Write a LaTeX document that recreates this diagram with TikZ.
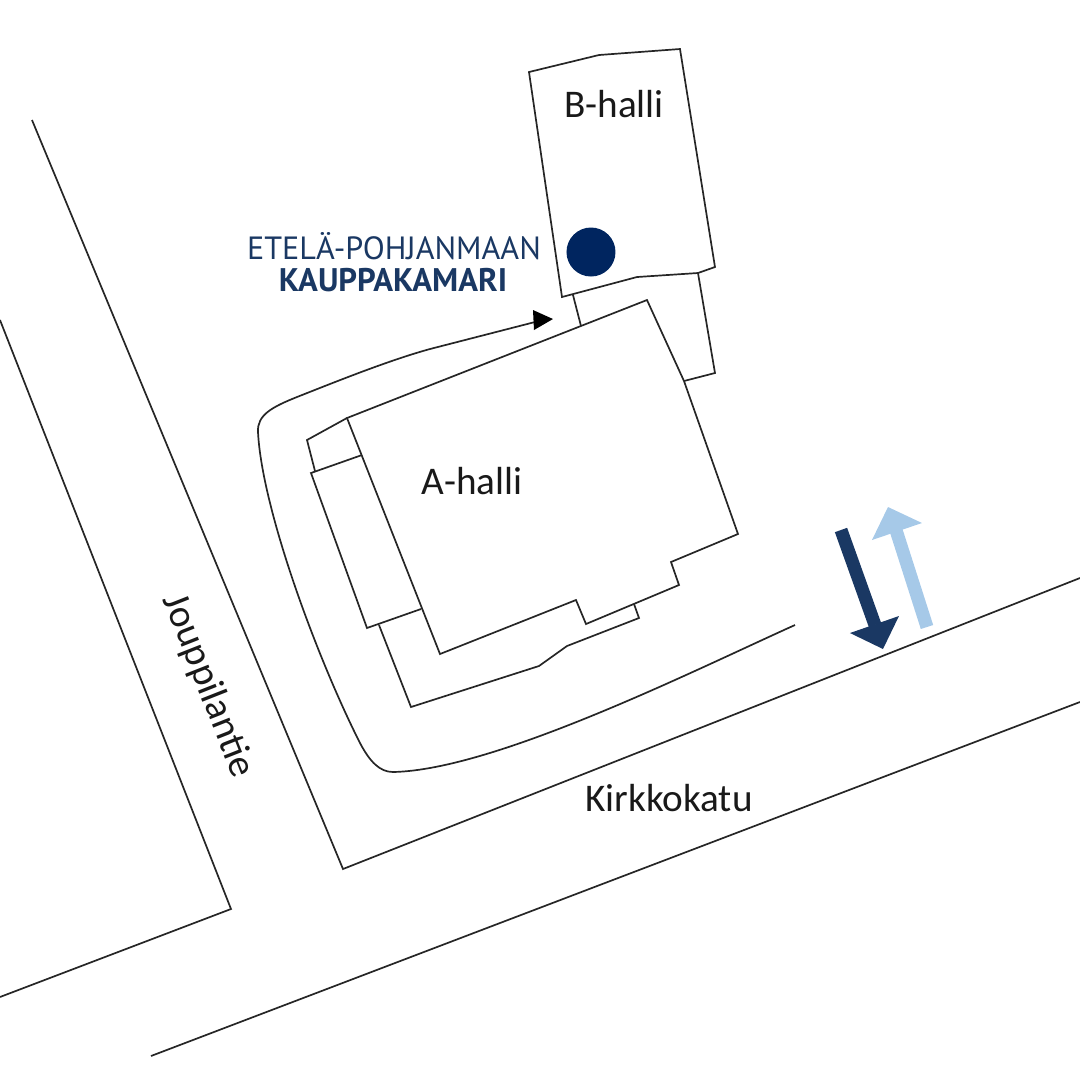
\documentclass[tikz,border=0pt]{standalone}
\usepackage{fontspec}
\setmainfont{Carlito}
\newfontfamily\ptsans{PT Sans}
\definecolor{navy}{HTML}{00255F}
\definecolor{darkblue}{HTML}{1A3863}
\definecolor{lightblue}{HTML}{A6C9E8}
\tikzset{
	plan/.style={line width=0.17mm, color=black!85, line join=miter},
	hall/.style={font=\fontsize{11.15}{13}\selectfont, color=black!90},
	title/.style={font=\ptsans\fontsize{9.15}{11}\selectfont, color=darkblue},
}

\begin{document}
\begin{tikzpicture}[x=0.1mm, y=-0.1mm]
		%%%%% START %%%%%
		\useasboundingbox (0, 0) rectangle (1080, 1080);
		
		% roads
		\draw[plan] (32, 120) -- (343, 869) -- (1080, 578);
		\draw[plan] (0, 320) -- (231, 909) -- (0, 997);
		\draw[plan] (151, 1056) -- (1080, 702);
		
		% B-halli
		\draw[plan] (529, 72) -- (599, 55) -- (680, 49) -- (715, 267) -- (698, 273) -- (637, 277) -- (562, 297) -- cycle;
		\draw[plan] (698, 273) -- (715, 373) -- (684, 381);
		\draw[plan] (573, 295) -- (581, 326);
		\draw[fill=navy, draw=none] (591, 252) circle (24.5);
		
		% A-halli
		\draw[plan] (647, 300) -- (347, 418) -- (440, 654) -- (576, 600) -- (586, 624) -- (679, 585) -- (671, 562) -- (738, 534) -- (684, 381) -- cycle;
		\draw[plan] (347, 418) -- (307, 440) -- (315, 471);
		\draw[plan] (362, 455) -- (311, 473) -- (367, 628) -- (421, 609);
		\draw[plan] (379, 625) -- (411, 707) -- (539, 666) -- (567, 646) -- (639, 618) -- (634, 604);
		
		% driveway
		\draw[plan] (795, 625) .. controls (695, 670) and (495, 770) .. (393, 772) .. controls (380, 772) and (370, 762) .. (360, 743) .. controls (318, 660) and (262, 510) .. (258, 432) .. controls (257, 415) and (272, 407) .. (297, 397) .. controls (340, 380) and (390, 360) .. (430, 349) -- (535, 322);
		\fill[black] (553, 319) -- (533, 310) -- (534, 330) -- cycle;
		
		% one way
		\draw[line width=1.3mm, color=darkblue] (841, 530) -- (875, 625);
		\fill[darkblue] (883, 649) -- (850, 633) -- (899, 616) -- cycle;
		\draw[line width=1.3mm, color=lightblue] (927, 627) -- (896, 530);
		\fill[lightblue] (888, 507) -- (872, 540) -- (922, 523) -- cycle;
		
		% labels
		\node[hall] (bhalli) at (614, 104) {B-halli};
		\node[hall] (ahalli) at (472, 481) {A-halli};
		\node[hall] (kirkkokatu) at (669, 798) {Kirkkokatu};
		\node[hall, rotate=-68.5] (jouppilantie) at (208, 686) {Jouppilantie};
		\node[title] (etela) at (394, 246) {ETELÄ-POHJANMAAN};
		\node[title, font=\ptsans\bfseries\fontsize{9.3}{11}\selectfont] (kauppakamari) at (393, 280) {KAUPPAKAMARI};
		%%%%% END %%%%%
	\end{tikzpicture}
\end{document}
